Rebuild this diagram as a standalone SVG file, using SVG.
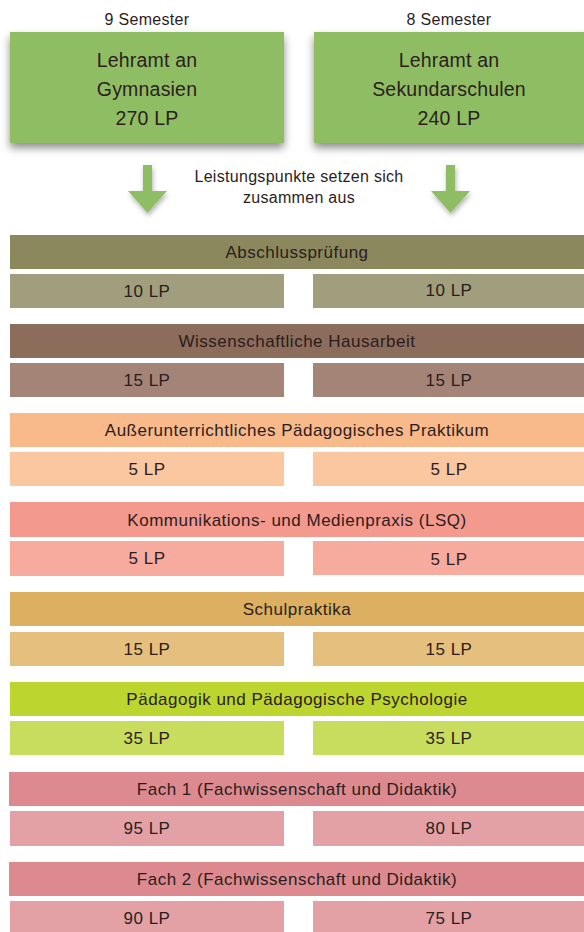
<svg xmlns="http://www.w3.org/2000/svg" width="584" height="932" viewBox="0 0 584 932">
<style>
text{font-family:"Liberation Sans",Arial,sans-serif;fill:#2b1d1d;text-anchor:middle}
.sem{font-size:16px;letter-spacing:0.3px}
.big{font-size:19.5px;letter-spacing:0.2px}
.lbl{font-size:17px;letter-spacing:0.5px}
.note{font-size:16px;letter-spacing:0.3px}
</style>
<defs>
<filter id="sh" x="-10%" y="-10%" width="120%" height="140%">
<feDropShadow dx="0" dy="5" stdDeviation="4" flood-color="#000" flood-opacity="0.45"/>
</filter>
<filter id="ash" x="-30%" y="-30%" width="160%" height="160%">
<feDropShadow dx="1" dy="3" stdDeviation="2.5" flood-color="#000" flood-opacity="0.3"/>
</filter>
</defs>
<g id="gym">
<text class="sem" x="147" y="25">9 Semester</text>
<rect x="10" y="32" width="274" height="111" fill="#8fbd64" filter="url(#sh)"/>
<text class="big" x="147" y="67">Lehramt an</text>
<text class="big" x="147" y="96">Gymnasien</text>
<text class="big" x="147" y="125">270 LP</text>
</g>
<g id="sek">
<text class="sem" x="449" y="25">8 Semester</text>
<rect x="314" y="32" width="276" height="111" fill="#8fbd64" filter="url(#sh)"/>
<text class="big" x="449" y="67">Lehramt an</text>
<text class="big" x="449" y="96">Sekundarschulen</text>
<text class="big" x="449" y="125">240 LP</text>
</g>
<g id="connectors">
<polygon points="143,165 152,165 152,191 167,191 147.5,213 128,191 143,191" fill="#8fbd64" filter="url(#ash)"/>
<polygon points="446,165 455,165 455,191 470,191 450.5,213 431,191 446,191" fill="#8fbd64" filter="url(#ash)"/>
</g>
<g id="note">
<text class="note" x="299" y="182">Leistungspunkte setzen sich</text>
<text class="note" x="299" y="203">zusammen aus</text>
</g>
<g id="abschluss">
<rect x="10" y="235" width="574" height="34" fill="#8a885c"/>
<text class="lbl" x="297" y="258">Abschlussprüfung</text>
<rect x="10" y="274" width="274" height="34" fill="#a09e7c"/>
<rect x="313" y="274" width="271" height="34" fill="#a09e7c"/>
<text class="lbl" x="147" y="297">10 LP</text>
<text class="lbl" x="449" y="296">10 LP</text>
</g>
<g id="hausarbeit">
<rect x="10" y="324" width="574" height="34" fill="#8c6c5a"/>
<text class="lbl" x="297" y="347">Wissenschaftliche Hausarbeit</text>
<rect x="10" y="363" width="274" height="34" fill="#a38477"/>
<rect x="313" y="363" width="271" height="34" fill="#a38477"/>
<text class="lbl" x="147" y="386">15 LP</text>
<text class="lbl" x="449" y="386">15 LP</text>
</g>
<g id="praktikum">
<rect x="10" y="413" width="574" height="34" fill="#f8b98b"/>
<text class="lbl" x="297" y="436">Außerunterrichtliches Pädagogisches Praktikum</text>
<rect x="10" y="452" width="274" height="34" fill="#fbc7a1"/>
<rect x="313" y="452" width="271" height="34" fill="#fbc7a1"/>
<text class="lbl" x="147" y="475">5 LP</text>
<text class="lbl" x="449" y="475">5 LP</text>
</g>
<g id="kommunikation">
<rect x="10" y="502" width="574" height="35" fill="#f3998d"/>
<text class="lbl" x="297" y="526">Kommunikations- und Medienpraxis (LSQ)</text>
<rect x="10" y="541" width="274" height="35" fill="#f7aa9e"/>
<rect x="313" y="541" width="271" height="34" fill="#f7aa9e"/>
<text class="lbl" x="147" y="564">5 LP</text>
<text class="lbl" x="449" y="565">5 LP</text>
</g>
<g id="schulpraktika">
<rect x="10" y="592" width="574" height="34" fill="#dcb060"/>
<text class="lbl" x="297" y="615">Schulpraktika</text>
<rect x="10" y="632" width="274" height="34" fill="#e4bf7d"/>
<rect x="313" y="632" width="271" height="34" fill="#e4bf7d"/>
<text class="lbl" x="147" y="655">15 LP</text>
<text class="lbl" x="449" y="655">15 LP</text>
</g>
<g id="paedagogik">
<rect x="10" y="682" width="574" height="34" fill="#bcd52f"/>
<text class="lbl" x="297" y="705">Pädagogik und Pädagogische Psychologie</text>
<rect x="10" y="721" width="274" height="34" fill="#c8dc5e"/>
<rect x="313" y="721" width="271" height="34" fill="#c8dc5e"/>
<text class="lbl" x="147" y="744">35 LP</text>
<text class="lbl" x="449" y="744">35 LP</text>
</g>
<g id="fach1">
<rect x="9" y="772" width="575" height="34" fill="#dc8a8f"/>
<text class="lbl" x="297" y="795">Fach 1 (Fachwissenschaft und Didaktik)</text>
<rect x="10" y="811" width="274" height="35" fill="#e3a1a5"/>
<rect x="313" y="811" width="271" height="35" fill="#e3a1a5"/>
<text class="lbl" x="147" y="834">95 LP</text>
<text class="lbl" x="449" y="834">80 LP</text>
</g>
<g id="fach2">
<rect x="9" y="862" width="575" height="34" fill="#dc8a8f"/>
<text class="lbl" x="297" y="885">Fach 2 (Fachwissenschaft und Didaktik)</text>
<rect x="10" y="901" width="274" height="35" fill="#e3a1a5"/>
<rect x="313" y="901" width="271" height="35" fill="#e3a1a5"/>
<text class="lbl" x="147" y="924">90 LP</text>
<text class="lbl" x="449" y="924">75 LP</text>
</g>
</svg>
